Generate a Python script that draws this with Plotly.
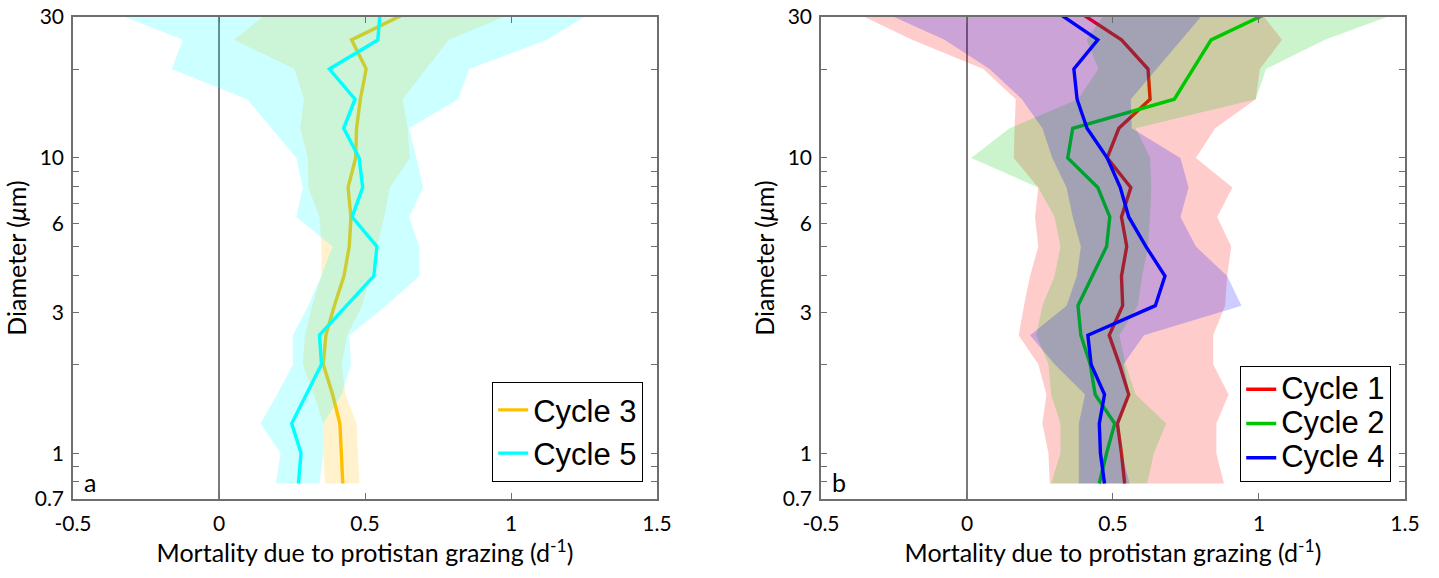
import math
import plotly.graph_objects as go

# Diameter bins (um), smallest to largest
diameter = [0.79, 1.0, 1.26, 1.58, 2.0, 2.51, 3.16, 3.98, 5.01, 6.31, 7.94, 10.0, 12.6, 15.8, 20.0, 25.1, 31.6]

# Panel a
cycle3_mean = [0.424, 0.418, 0.414, 0.389, 0.357, 0.366, 0.395, 0.428, 0.446, 0.452, 0.442, 0.468, 0.471, 0.484, 0.504, 0.454, 0.66]
cycle3_lo = [0.363, 0.357, 0.357, 0.325, 0.287, 0.294, 0.319, 0.351, 0.351, 0.344, 0.306, 0.304, 0.278, 0.291, 0.259, 0.051, 0.178]
cycle3_hi = [0.481, 0.477, 0.471, 0.433, 0.420, 0.439, 0.49, 0.52, 0.541, 0.566, 0.585, 0.654, 0.646, 0.629, 0.709, 0.787, 1.028]

cycle5_mean = [0.272, 0.281, 0.249, 0.300, 0.351, 0.344, 0.437, 0.530, 0.541, 0.456, 0.492, 0.480, 0.427, 0.466, 0.378, 0.544, 0.552]
cycle5_lo = [0.195, 0.211, 0.142, 0.199, 0.253, 0.253, 0.306, 0.35, 0.389, 0.265, 0.287, 0.265, 0.180, 0.097, -0.162, -0.124, -0.38]
cycle5_hi = [0.344, 0.357, 0.357, 0.420, 0.452, 0.446, 0.572, 0.686, 0.686, 0.651, 0.699, 0.676, 0.651, 0.819, 0.857, 1.123, 1.289]

# Panel b
cycle1_mean = [0.540, 0.529, 0.515, 0.554, 0.522, 0.487, 0.533, 0.529, 0.547, 0.529, 0.561, 0.480, 0.520, 0.627, 0.620, 0.529, 0.375]
cycle1_lo = [0.283, 0.279, 0.258, 0.272, 0.244, 0.177, 0.195, 0.216, 0.244, 0.233, 0.244, 0.160, 0.163, 0.167, 0.056, -0.188, -0.398]
cycle1_hi = [0.880, 0.854, 0.854, 0.896, 0.843, 0.843, 0.884, 0.891, 0.905, 0.857, 0.909, 0.784, 0.850, 0.989, 1.003, 1.079, 1.0]

cycle2_mean = [0.453, 0.478, 0.506, 0.439, 0.422, 0.390, 0.380, 0.428, 0.478, 0.489, 0.448, 0.345, 0.362, 0.710, 0.773, 0.836, 1.049]
cycle2_lo = [0.288, 0.320, 0.320, 0.288, 0.279, 0.237, 0.258, 0.30, 0.32, 0.30, 0.244, 0.014, 0.146, 0.38, 0.45, 0.41, 0.48]
cycle2_hi = [0.617, 0.640, 0.682, 0.578, 0.543, 0.522, 0.585, 0.60, 0.62, 0.627, 0.631, 0.627, 0.578, 0.989, 1.024, 1.226, 1.5]

cycle4_mean = [0.471, 0.457, 0.453, 0.471, 0.425, 0.414, 0.645, 0.678, 0.613, 0.554, 0.525, 0.480, 0.411, 0.377, 0.366, 0.448, 0.299]
cycle4_lo = [0.383, 0.383, 0.383, 0.404, 0.30, 0.216, 0.341, 0.376, 0.390, 0.362, 0.341, 0.292, 0.258, 0.188, 0.077, -0.077, -0.30]
cycle4_hi = [0.557, 0.53, 0.522, 0.557, 0.536, 0.606, 0.940, 0.891, 0.784, 0.731, 0.759, 0.731, 0.564, 0.561, 0.648, 0.734, 0.82]

x_ticks = [-0.5, 0, 0.5, 1, 1.5]
x_ticktext = ["-0.5", "0", "0.5", "1", "1.5"]
y_tickvals = [0.7, 0.8, 0.9, 1, 2, 3, 4, 5, 6, 7, 8, 9, 10, 20, 30]
y_ticktext = ["0.7", "", "", "1", "", "3", "", "", "6", "", "", "", "10", "", "30"]
y_min, y_max = 0.7, 30

series_a = [
    ("Cycle 3", (255, 192, 0), cycle3_mean, cycle3_lo, cycle3_hi),
    ("Cycle 5", (0, 255, 255), cycle5_mean, cycle5_lo, cycle5_hi),
]
series_b = [
    ("Cycle 1", (255, 0, 0), cycle1_mean, cycle1_lo, cycle1_hi),
    ("Cycle 2", (0, 200, 0), cycle2_mean, cycle2_lo, cycle2_hi),
    ("Cycle 4", (0, 0, 255), cycle4_mean, cycle4_lo, cycle4_hi),
]

fig = go.Figure()


def add_series(series, xa, ya, legend, name_fmt):
    for name, rgb, mean, lo, hi in series:
        r, g, b = rgb
        fig.add_trace(go.Scatter(
            x=list(lo) + list(hi)[::-1],
            y=list(diameter) + list(diameter)[::-1],
            fill="toself", fillcolor=f"rgba({r},{g},{b},0.2)",
            line=dict(width=0), mode="lines", hoverinfo="skip",
            showlegend=False, xaxis=xa, yaxis=ya,
        ))
        fig.add_trace(go.Scatter(
            x=mean, y=diameter, mode="lines", name=name_fmt.format(name),
            line=dict(color=f"rgb({r},{g},{b})", width=3.4),
            xaxis=xa, yaxis=ya, legend=legend,
        ))


add_series(series_a, "x", "y", "legend", "{}")
add_series(series_b, "x2", "y2", "legend2", "<span style='font-size:31px'>{}</span>")

AX = "#6e6e6e"
TICKFONT = dict(family="Lato, 'Open Sans', sans-serif", size=21, color="black")
TITLEFONT = dict(family="Lato, 'Open Sans', sans-serif", size=25, color="black")
PANELFONT = dict(family="Lato, 'Open Sans', sans-serif", size=25, color="black")
xtitle = "Mortality due to protistan grazing (d<sup>-1</sup>)"
ytitle = "Diameter (<i>\u03bc</i>m)"

xcommon = dict(range=[-0.5, 1.5], tickvals=x_ticks, ticktext=x_ticktext,
               showline=True, linecolor=AX, linewidth=1.5, mirror="ticks",
               ticks="inside", ticklen=6, tickcolor=AX, tickwidth=1.2,
               showgrid=False, zeroline=True, zerolinecolor="#7a7a7a", zerolinewidth=1.5,
               tickfont=TICKFONT, ticklabelstandoff=5,
               title=dict(text=xtitle, font=TITLEFONT, standoff=0))
ycommon = dict(type="log", range=[math.log10(y_min), math.log10(y_max)],
               tickvals=y_tickvals, ticktext=y_ticktext,
               showline=True, linecolor=AX, linewidth=1.5, mirror="ticks",
               ticks="inside", ticklen=6, tickcolor=AX, tickwidth=1.2,
               showgrid=False, zeroline=False, tickfont=TICKFONT, ticklabelstandoff=3,
               title=dict(text=ytitle, font=TITLEFONT, standoff=1))

fig.update_layout(
    width=1439, height=578,
    margin=dict(l=73, r=34, t=17, b=79),
    paper_bgcolor="white", plot_bgcolor="white",
    template="none",
    xaxis=dict(domain=[0, 0.43844], anchor="y", **xcommon),
    xaxis2=dict(domain=[0.56156, 1.0], anchor="y2", **xcommon),
    yaxis=dict(domain=[0, 1], anchor="x", **ycommon),
    yaxis2=dict(domain=[0, 1], anchor="x2", **ycommon),
    legend=dict(x=0.4279, y=0.0353, xref="paper", yref="paper", xanchor="right", yanchor="bottom",
                bgcolor="white", bordercolor="black", borderwidth=1.2,
                font=dict(family="'Liberation Sans', Arial, sans-serif", size=31, color="black")),
    legend2=dict(x=0.9895, y=0.0353, xref="paper", yref="paper", xanchor="right", yanchor="bottom",
                 bgcolor="white", bordercolor="black", borderwidth=1.2,
                 font=dict(family="'Liberation Sans', Arial, sans-serif", size=24, color="black")),
    showlegend=True,
)

label_y = math.log10(0.8)
fig.add_annotation(text="a", x=-0.47, y=label_y, xref="x", yref="y", yanchor="middle", xanchor="left",
                   showarrow=False, font=PANELFONT)
fig.add_annotation(text="b", x=-0.47, y=label_y, xref="x2", yref="y2", yanchor="middle", xanchor="left",
                   showarrow=False, font=PANELFONT)

fig.write_html("out.html")
